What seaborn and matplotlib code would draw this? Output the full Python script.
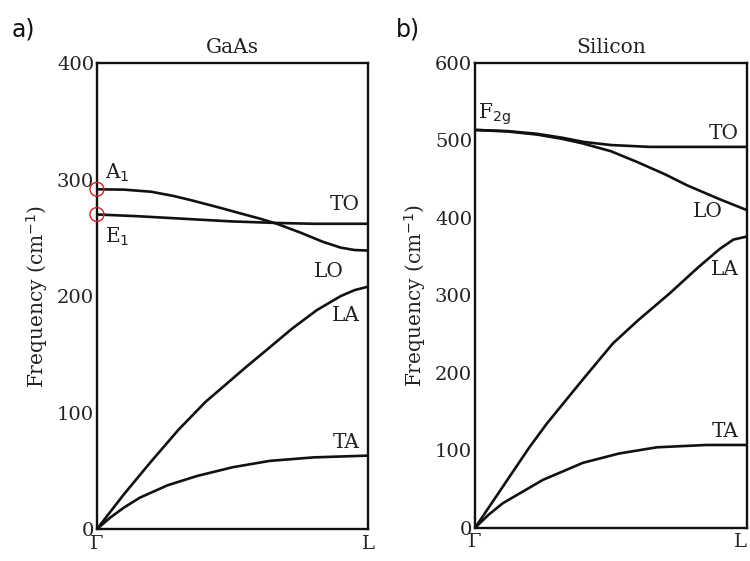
import matplotlib
matplotlib.use("Agg")
import matplotlib.pyplot as plt
import seaborn as sns
import pandas as pd

# Wave-vector position along Gamma -> L (0 = Gamma, 1 = L)
gaas_to_q = [0.0, 0.15, 0.343, 0.5, 0.664, 0.8, 1.0]
gaas_to_f = [270.0, 268.5, 266.0, 264.0, 262.7, 262.0, 262.0]
gaas_lo_q = [0.0, 0.1, 0.2, 0.28, 0.343, 0.45, 0.528, 0.6, 0.664, 0.75, 0.834, 0.9, 0.95, 1.0]
gaas_lo_f = [291.6, 291.3, 289.5, 286.0, 282.5, 276.0, 271.0, 266.5, 262.0, 254.5, 246.5, 241.5, 239.5, 239.0]
gaas_la_q = [0.0, 0.1, 0.2, 0.3, 0.4, 0.465, 0.55, 0.638, 0.72, 0.812, 0.9, 0.95, 1.0]
gaas_la_f = [0.0, 30.0, 58.0, 85.0, 109.0, 122.0, 139.0, 156.0, 172.0, 188.0, 200.0, 205.0, 208.0]
gaas_ta_q = [0.0, 0.05, 0.1, 0.159, 0.26, 0.369, 0.5, 0.638, 0.8, 1.0]
gaas_ta_f = [0.0, 10.0, 18.5, 27.0, 37.5, 45.5, 53.0, 58.5, 61.5, 63.0]

si_to_q = [0.0, 0.12, 0.228, 0.32, 0.4, 0.5, 0.643, 1.0]
si_to_f = [513.5, 512.0, 508.5, 503.5, 498.0, 494.0, 491.6, 491.6]
si_lo_q = [0.0, 0.12, 0.228, 0.32, 0.397, 0.5, 0.597, 0.7, 0.78, 0.9, 1.0]
si_lo_f = [513.5, 511.5, 507.5, 502.0, 496.0, 486.0, 472.0, 456.0, 442.0, 424.0, 410.0]
si_la_q = [0.0, 0.1, 0.2, 0.265, 0.4, 0.507, 0.6, 0.717, 0.82, 0.9, 0.95, 1.0]
si_la_f = [0.0, 52.0, 104.0, 135.0, 193.0, 238.0, 268.0, 303.0, 336.0, 360.0, 372.0, 376.0]
si_ta_q = [0.0, 0.05, 0.103, 0.25, 0.397, 0.53, 0.669, 0.85, 1.0]
si_ta_f = [0.0, 17.0, 32.0, 62.0, 84.0, 96.0, 104.0, 107.0, 107.0]

gaas_ticks = [0, 100, 200, 300, 400]
si_ticks = [0, 100, 200, 300, 400, 500, 600]
q_ticks = [0, 1]
q_labels = ["Γ", "L"]

# Raman-active zone-centre modes of GaAs
gaas_modes_f = [gaas_lo_f[0], gaas_to_f[0]]

sns.set_style("white")
plt.rcParams["font.family"] = ["DejaVu Serif"]

fig = plt.figure(figsize=(7.5, 5.61), dpi=100)
ax_a = fig.add_axes([0.1293, 0.057, 0.3613, 0.8307])
ax_b = fig.add_axes([0.6333, 0.059, 0.3627, 0.8289])

lw = 1.9
ink = "#222222"


def draw_branch(ax, q, f):
    df = pd.DataFrame({"q": q, "f": f})
    sns.lineplot(data=df, x="q", y="f", ax=ax, color="#111111", lw=lw,
                 estimator=None, sort=False, legend=False)


for q, f in [(gaas_to_q, gaas_to_f), (gaas_lo_q, gaas_lo_f),
             (gaas_la_q, gaas_la_f), (gaas_ta_q, gaas_ta_f)]:
    draw_branch(ax_a, q, f)

for q, f in [(si_to_q, si_to_f), (si_lo_q, si_lo_f),
             (si_la_q, si_la_f), (si_ta_q, si_ta_f)]:
    draw_branch(ax_b, q, f)

# red circles marking the A1 and E1 modes at Gamma
sns.scatterplot(x=[0, 0], y=gaas_modes_f, ax=ax_a, s=100, marker="o",
                facecolors="none", edgecolors="#d42020", linewidths=1.0,
                clip_on=False, zorder=5, legend=False)

for ax, ymax, ticks, title in [(ax_a, 400, gaas_ticks, "GaAs"),
                                (ax_b, 600, si_ticks, "Silicon")]:
    ax.set_xlim(0, 1)
    ax.set_ylim(0, ymax)
    ax.set_yticks(ticks)
    ax.set_yticklabels([str(t) for t in ticks])
    ax.set_xticks(q_ticks)
    ax.set_xticklabels(q_labels)
    ax.tick_params(axis="both", length=0, labelsize=14, colors=ink)
    ax.tick_params(axis="y", pad=2)
    ax.tick_params(axis="x", pad=4)
    ax.set_xlabel("")
    ax.set_ylabel("Frequency (cm$^{-1}$)", fontsize=14.5, color=ink,
                  labelpad=5)
    ax.set_title(title, fontsize=14.5, color=ink, pad=7)
    for sp in ax.spines.values():
        sp.set_visible(True)
        sp.set_color("#111111")
        sp.set_linewidth(1.7)

# keep the L label of the right panel inside the figure
ax_b.get_xticklabels()[1].set_horizontalalignment("right")
ax_b.get_xticklabels()[1].set_x(1.0)

lab = dict(fontsize=14.5, color=ink)
# GaAs branch labels
ax_a.text(0.97, 270, "TO", ha="right", va="bottom", **lab)
ax_a.text(0.91, 229, "LO", ha="right", va="top", **lab)
ax_a.text(0.97, 191, "LA", ha="right", va="top", **lab)
ax_a.text(0.97, 66, "TA", ha="right", va="bottom", **lab)
ax_a.text(0.03, 296, "A$_1$", ha="left", va="bottom", **lab)
ax_a.text(0.03, 260, "E$_1$", ha="left", va="top", **lab)

# Silicon branch labels
ax_b.text(0.97, 497, "TO", ha="right", va="bottom", **lab)
ax_b.text(0.91, 408, "LO", ha="right", va="center", **lab)
ax_b.text(0.97, 333, "LA", ha="right", va="center", **lab)
ax_b.text(0.97, 112, "TA", ha="right", va="bottom", **lab)
ax_b.text(0.01, 517, "F$_{\\mathrm{2g}}$", ha="left", va="bottom", **lab)

# panel letters
fig.text(0.015, 0.948, "a)", fontsize=17, family=["DejaVu Sans"],
         ha="left", va="center", color="#111111")
fig.text(0.528, 0.948, "b)", fontsize=17, family=["DejaVu Sans"],
         ha="left", va="center", color="#111111")

fig.savefig("out.png", dpi=100, facecolor="white")
